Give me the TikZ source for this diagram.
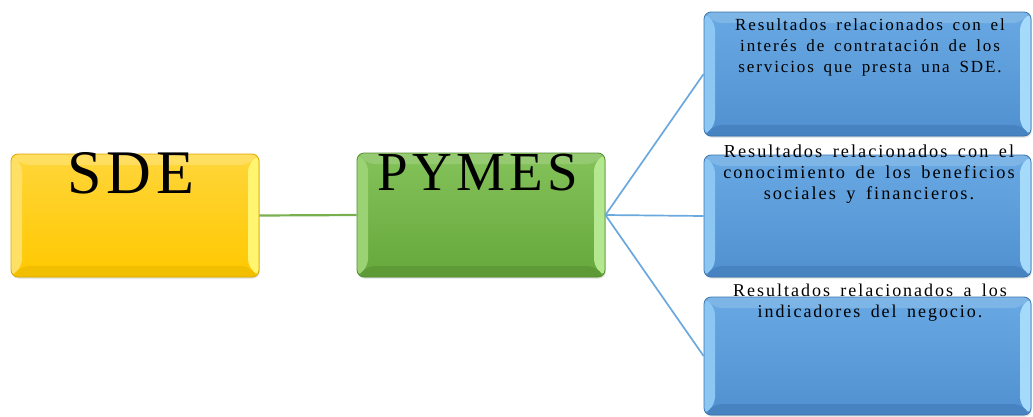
\documentclass[tikz,border=0pt]{standalone}
\usepackage{fontspec}
\setmainfont{Liberation Serif}
\newfontfamily\titlefont[LetterSpace=8]{Liberation Serif}
\newfontfamily\bodyfont[LetterSpace=11,WordSpace=1.6]{Liberation Serif}
\usetikzlibrary{shadows}

\definecolor{yelTop}{HTML}{FFD63A}
\definecolor{yelBot}{HTML}{FFC800}
\definecolor{yelEdge}{HTML}{D9A800}
\definecolor{yelL}{HTML}{FFE066}
\definecolor{yelR}{HTML}{FFF570}
\definecolor{yelB}{HTML}{F2BE00}
\definecolor{grnTop}{HTML}{84C25A}
\definecolor{grnBot}{HTML}{66A83C}
\definecolor{grnEdge}{HTML}{548F30}
\definecolor{grnL}{HTML}{9AD274}
\definecolor{grnR}{HTML}{B4E890}
\definecolor{grnB}{HTML}{5E9A36}
\definecolor{bluTop}{HTML}{68A9E4}
\definecolor{bluBot}{HTML}{5090D0}
\definecolor{bluEdge}{HTML}{3C74AE}
\definecolor{bluL}{HTML}{8CC6F2}
\definecolor{bluR}{HTML}{A6DAFA}
\definecolor{bluB}{HTML}{4683C0}
\definecolor{lineGreen}{HTML}{78B050}
\definecolor{lineBlue}{HTML}{6AA8DE}

\tikzset{
  bevelbox/.style n args={7}{
    draw=#3, line width=0.8pt, rounded corners=7pt, inner sep=0pt,
    top color=#1, bottom color=#2,
    drop shadow={opacity=0.25, shadow xshift=0.8pt, shadow yshift=-1.6pt},
    path picture={
      \coordinate (pNW) at (path picture bounding box.north west);
      \coordinate (pNE) at (path picture bounding box.north east);
      \coordinate (pSW) at (path picture bounding box.south west);
      \coordinate (pSE) at (path picture bounding box.south east);
      \fill[#4] (pNW) -- (pSW) -- ([shift={(11pt,11pt)}]pSW) -- ([shift={(11pt,-11pt)}]pNW) -- cycle;
      \fill[#5] (pNE) -- (pSE) -- ([shift={(-11pt,11pt)}]pSE) -- ([shift={(-11pt,-11pt)}]pNE) -- cycle;
      \fill[#6] (pSW) -- (pSE) -- ([shift={(-11pt,11pt)}]pSE) -- ([shift={(11pt,11pt)}]pSW) -- cycle;
      \fill[#7, opacity=0.5] (pNW) -- (pNE) -- ([shift={(-11pt,-11pt)}]pNE) -- ([shift={(11pt,-11pt)}]pNW) -- cycle;
    }
  },
  yellowbox/.style={bevelbox={yelTop}{yelBot}{yelEdge}{yelL}{yelR}{yelB}{yelTop!60!white}},
  greenbox/.style={bevelbox={grnTop}{grnBot}{grnEdge}{grnL}{grnR}{grnB}{grnTop!70!white}},
  bluebox/.style={bevelbox={bluTop}{bluBot}{bluEdge}{bluL}{bluR}{bluB}{bluTop!70!white}},
  titletext/.style={inner sep=0pt, anchor=base, text=black},
  % anchor=base of a multi-line node is the baseline of its last line
  bodytext/.style={inner sep=0pt, anchor=base, align=center, text=black},
  greenlink/.style={draw=lineGreen, line width=2.2pt},
  bluelink/.style={draw=lineBlue, line width=1.7pt},
}

\begin{document}
\begin{tikzpicture}[x=1pt, y=-1pt]
  \useasboundingbox (0,0) rectangle (1033,416);

  % boxes
  \node[yellowbox, minimum width=248pt, minimum height=123pt] (sde) at (135,215.5) {};
  \node[greenbox, minimum width=248pt, minimum height=124pt] (pymes) at (481,215) {};
  \node[bluebox, minimum width=327pt, minimum height=124pt] (r1) at (867.5,74) {};
  \node[bluebox, minimum width=327pt, minimum height=122pt] (r2) at (867.5,216) {};
  \node[bluebox, minimum width=327pt, minimum height=118pt] (r3) at (867.5,356) {};

  % connectors
  \draw[greenlink] (sde.east) -- (pymes.west);
  \draw[bluelink] (pymes.east) -- (r1.west);
  \draw[bluelink] (pymes.east) -- (r2.west);
  \draw[bluelink] (pymes.east) -- (r3.west);

  % titles
  \node[titletext, font=\titlefont\fontsize{62}{62}\selectfont] (sdeT) at (131,193) {SDE};
  \node[titletext, font=\titlefont\fontsize{55}{55}\selectfont] (pymesT) at (478,190) {PYMES};

  % descriptions
  \node[bodytext, font=\bodyfont\fontsize{17}{21}\selectfont] (r1T) at (870,72)
    {Resultados relacionados con el\\interés de contratación de los\\servicios que presta una SDE.};
  \node[bodytext, font=\bodyfont\fontsize{18.3}{21}\selectfont] (r2T) at (869,199)
    {Resultados relacionados con el\\conocimiento de los beneficios\\sociales y financieros.};
  \node[bodytext, font=\bodyfont\fontsize{18}{21}\selectfont] (r3T) at (870,317)
    {Resultados relacionados a los\\indicadores del negocio.};
\end{tikzpicture}
\end{document}
